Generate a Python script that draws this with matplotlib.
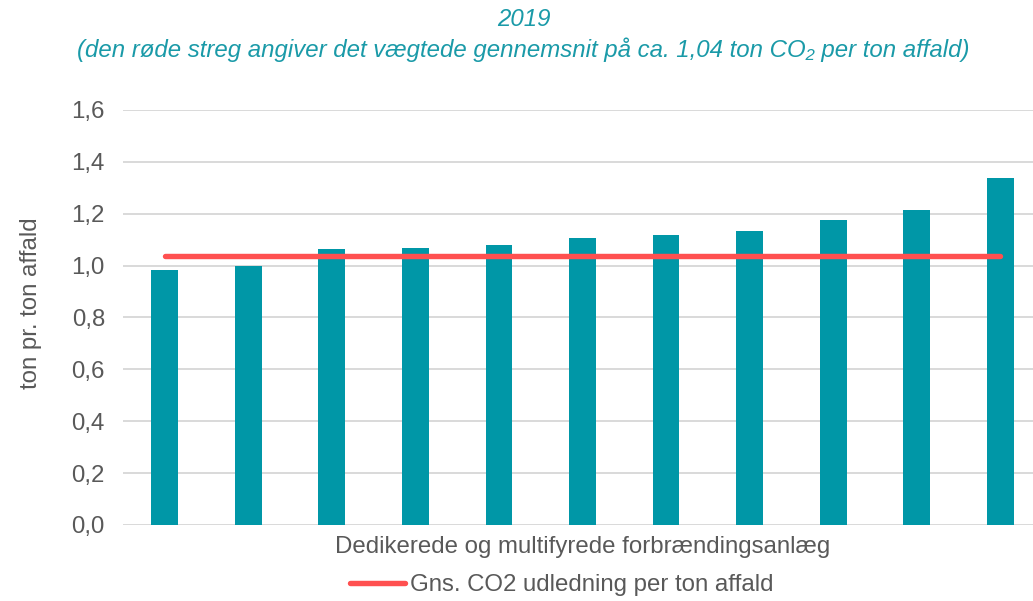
import numpy as np
import matplotlib.pyplot as plt
from matplotlib.ticker import FuncFormatter

plt.rcParams['font.family'] = ['Liberation Sans', 'DejaVu Sans']

# data (ton CO2 per ton affald), sorted plants
plants = ['A1', 'A2', 'A3', 'A4', 'A5', 'A6', 'A7', 'A8', 'A9', 'A10', 'A11']
values = [0.985, 0.998, 1.063, 1.067, 1.079, 1.106, 1.118, 1.133, 1.177, 1.214, 1.336]
avg = 1.038
avg_line = [avg] * len(plants)

teal = '#0097a7'
red = '#ff5050'
grey = '#595959'
fs = 17.3

fig = plt.figure(figsize=(10.33, 6.01), dpi=100)
ax = fig.add_axes([123 / 1033, 1 - 525 / 601, (1042 - 123) / 1033, (525 - 110) / 601])

x = np.arange(len(plants))
ax.bar(x, values, width=0.32, color=teal, zorder=2)
ax.plot(x, avg_line, color=red, linewidth=3.9, solid_capstyle='round', zorder=3,
        label='Gns. CO2 udledning per ton affald')

ax.set_xlim(-0.5, len(plants) - 0.5)
ax.set_ylim(0, 1.6)
ax.set_yticks(np.arange(0, 1.61, 0.2))
ax.yaxis.set_major_formatter(FuncFormatter(lambda v, p: f'{v:.1f}'.replace('.', ',')))
ax.set_xticks([])
ax.grid(axis='y', color='#d9d9d9', linewidth=1.4, zorder=0)
for s in ax.spines.values():
    s.set_visible(False)
ax.tick_params(axis='y', length=0, labelsize=fs, labelcolor=grey, pad=13)

ax.set_ylabel('ton pr. ton affald', fontsize=fs, color=grey)
ax.yaxis.set_label_coords(-0.088, 0.535)
ax.set_xlabel('Dedikerede og multifyrede forbrændingsanlæg', fontsize=fs, color=grey, labelpad=8)

fig.text(524 / 1033, 1 - 20 / 601, '2019', ha='center', va='center',
         fontsize=fs, style='italic', color='#1a9aa8')
fig.text(523 / 1033, 1 - 50 / 601,
         '(den røde streg angiver det vægtede gennemsnit på ca. 1,04 ton CO₂ per ton affald)',
         ha='center', va='center', fontsize=fs, style='italic', color='#1a9aa8')

leg = fig.legend(loc='center', bbox_to_anchor=(562 / 1033, 1 - 585 / 601), frameon=False,
                 fontsize=fs, handlelength=2.3, handletextpad=0.2)
for t in leg.get_texts():
    t.set_color(grey)

fig.savefig('out.png', dpi=100)
